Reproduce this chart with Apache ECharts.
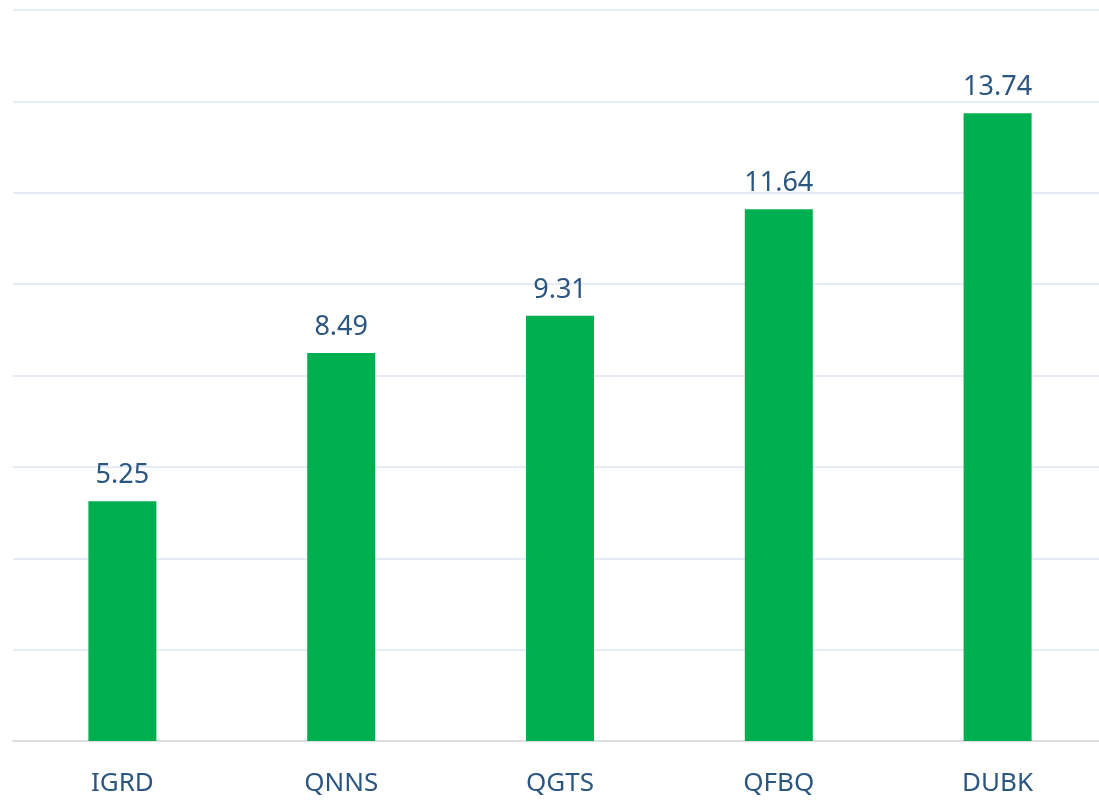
<!DOCTYPE html>
<html>
<head>
<meta charset="utf-8">
<script src="https://cdn.jsdelivr.net/npm/echarts@6/dist/echarts.min.js"></script>
<style>
html,body{margin:0;padding:0;background:#fff;}
#chart{width:1099px;height:801px;}
</style>
</head>
<body>
<div id="chart"></div>
<script>
const categories = ["IGRD", "QNNS", "QGTS", "QFBQ", "DUBK"];
const values = [5.25, 8.49, 9.31, 11.64, 13.74];

const chart = echarts.init(document.getElementById('chart'), null, {renderer: 'canvas'});
chart.setOption({
  animation: false,
  backgroundColor: '#ffffff',
  grid: {left: 13, width: 1094, top: 10, height: 731, outerBoundsMode: 'none'},
  xAxis: {
    type: 'category',
    data: categories,
    axisLine: {show: true, lineStyle: {color: '#D9D9D9', width: 1.5}},
    axisTick: {show: false},
    axisLabel: {color: '#2B5680', fontSize: 26, fontFamily: 'Noto Sans', margin: 30}
  },
  yAxis: {
    type: 'value',
    min: 0, max: 16, interval: 2,
    axisLabel: {show: false},
    axisLine: {show: false},
    axisTick: {show: false},
    splitLine: {show: true, lineStyle: {color: '#DCE6F2', width: 1.5}}
  },
  series: [{
    type: 'bar',
    data: values,
    barWidth: 68,
    itemStyle: {color: '#00B050'},
    label: {
      show: true, position: 'top', distance: 12,
      color: '#2B5680', fontSize: 27, fontFamily: 'Noto Sans',
      formatter: p => p.value.toFixed(2)
    }
  }]
});
</script>
</body>
</html>
